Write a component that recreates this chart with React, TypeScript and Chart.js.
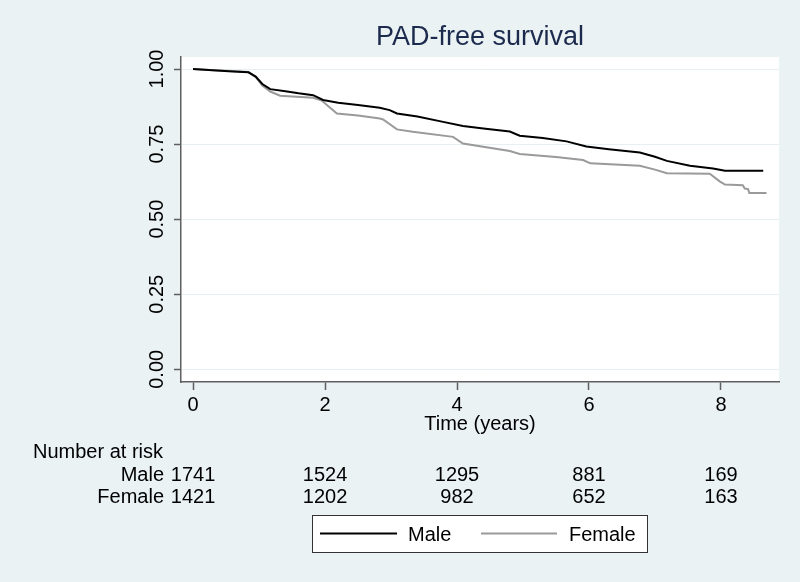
import React, { useEffect, useRef } from 'react';
import { Chart, registerables } from 'chart.js';

Chart.register(...registerables);

const TITLE = 'PAD-free survival';
const X_TITLE = 'Time (years)';
const X_TICKS = [0, 2, 4, 6, 8];
const Y_TICKS = [0, 0.25, 0.5, 0.75, 1];
const Y_TICK_LABELS = ['0.00', '0.25', '0.50', '0.75', '1.00'];

const MALE_TIME = [0, 0.3, 0.6, 0.84, 0.95, 1.05, 1.17, 1.4, 1.6, 1.82, 1.97, 2.2, 2.5, 2.83, 2.98, 3.09, 3.4, 3.79, 4.09, 4.4, 4.8, 4.95, 5.3, 5.66, 5.96, 6.3, 6.77, 7.0, 7.18, 7.53, 7.88, 8.06, 8.64];
const MALE_SURV = [1.0, 0.996, 0.992, 0.989, 0.975, 0.95, 0.933, 0.926, 0.919, 0.913, 0.897, 0.888, 0.88, 0.871, 0.863, 0.852, 0.842, 0.824, 0.81, 0.802, 0.792, 0.778, 0.77, 0.759, 0.742, 0.733, 0.722, 0.708, 0.694, 0.678, 0.669, 0.661, 0.661];

const FEMALE_TIME = [0, 0.3, 0.6, 0.84, 0.95, 1.05, 1.17, 1.32, 1.82, 1.95, 2.18, 2.5, 2.83, 2.88, 3.09, 3.33, 3.94, 4.09, 4.8, 4.95, 5.5, 5.91, 6.02, 6.77, 7.0, 7.18, 7.83, 7.98, 8.06, 8.33, 8.36, 8.41, 8.43, 8.69];
const FEMALE_SURV = [1.0, 0.996, 0.993, 0.99, 0.973, 0.945, 0.925, 0.911, 0.904, 0.895, 0.852, 0.845, 0.835, 0.832, 0.799, 0.791, 0.774, 0.752, 0.727, 0.717, 0.707, 0.697, 0.686, 0.678, 0.665, 0.653, 0.651, 0.626, 0.615, 0.613, 0.602, 0.6, 0.587, 0.587];

const RISK_TIMES = [0, 2, 4, 6, 8];
const MALE_AT_RISK = [1741, 1524, 1295, 881, 169];
const FEMALE_AT_RISK = [1421, 1202, 982, 652, 163];
const GROUPS = ['Male', 'Female'];

const FONT = '"Liberation Sans", Arial, Helvetica, sans-serif';
const BG = '#EAF2F3';
const MALE_COLOR = '#000000';
const FEMALE_COLOR = '#9a9a9a';
const AXIS_COLOR = '#5f5f5f';

const decorPlugin = {
  id: 'decor',
  beforeDraw(chart: any) {
    const { ctx, chartArea: a, width, height } = chart;
    ctx.save();
    ctx.fillStyle = BG;
    ctx.fillRect(0, 0, width, height);
    ctx.fillStyle = '#ffffff';
    ctx.fillRect(a.left, a.top, a.right - a.left, a.bottom - a.top);
    ctx.restore();
  },
  afterDraw(chart: any) {
    const { ctx, chartArea: a } = chart;
    const xs = chart.scales.x;
    const ys = chart.scales.y;
    ctx.save();
    // title
    ctx.fillStyle = '#1c2a4e';
    ctx.font = `27px ${FONT}`;
    ctx.textAlign = 'center';
    ctx.textBaseline = 'middle';
    ctx.fillText(TITLE, (a.left + a.right) / 2, 38);

    // y tick labels (rotated)
    ctx.fillStyle = '#000';
    ctx.font = `20px ${FONT}`;
    Y_TICKS.forEach((v, i) => {
      const y = ys.getPixelForValue(v);
      ctx.save();
      ctx.translate(157, y);
      ctx.rotate(-Math.PI / 2);
      ctx.textAlign = 'center';
      ctx.textBaseline = 'middle';
      ctx.fillText(Y_TICK_LABELS[i], 0, 0);
      ctx.restore();
    });

    // number at risk table
    ctx.font = `20px ${FONT}`;
    ctx.textBaseline = 'middle';
    ctx.textAlign = 'left';
    ctx.fillText('Number at risk', 33, 452);
    ctx.textAlign = 'right';
    ctx.fillText(GROUPS[0], 164, 475);
    ctx.fillText(GROUPS[1], 164, 497);
    ctx.textAlign = 'center';
    RISK_TIMES.forEach((t, i) => {
      const x = xs.getPixelForValue(t);
      ctx.fillText(String(MALE_AT_RISK[i]), x, 475);
      ctx.fillText(String(FEMALE_AT_RISK[i]), x, 497);
    });

    // legend
    ctx.fillStyle = '#ffffff';
    ctx.fillRect(312.5, 515.5, 335, 37);
    ctx.strokeStyle = '#333333';
    ctx.lineWidth = 1;
    ctx.strokeRect(312.5, 515.5, 335, 37);
    ctx.lineWidth = 2;
    ctx.strokeStyle = MALE_COLOR;
    ctx.beginPath();
    ctx.moveTo(320, 533.5);
    ctx.lineTo(397, 533.5);
    ctx.stroke();
    ctx.strokeStyle = FEMALE_COLOR;
    ctx.beginPath();
    ctx.moveTo(481, 533.5);
    ctx.lineTo(557, 533.5);
    ctx.stroke();
    ctx.fillStyle = '#000';
    ctx.textAlign = 'left';
    ctx.textBaseline = 'middle';
    ctx.fillText(GROUPS[0], 408, 535);
    ctx.fillText(GROUPS[1], 569, 535);
    ctx.restore();
  },
};

export default function App() {
  const ref = useRef<HTMLCanvasElement | null>(null);
  useEffect(() => {
    if (!ref.current) return;
    const chart = new Chart(ref.current, {
      type: 'line',
      data: {
        datasets: [
          {
            label: GROUPS[0],
            data: MALE_TIME.map((t, i) => ({ x: t, y: MALE_SURV[i] })),
            borderColor: MALE_COLOR,
            borderWidth: 2,
            pointRadius: 0,
            fill: false,
            tension: 0,
          },
          {
            label: GROUPS[1],
            data: FEMALE_TIME.map((t, i) => ({ x: t, y: FEMALE_SURV[i] })),
            borderColor: FEMALE_COLOR,
            borderWidth: 2,
            pointRadius: 0,
            fill: false,
            tension: 0,
          },
        ],
      },
      options: {
        animation: false,
        responsive: false,
        maintainAspectRatio: false,
        layout: { padding: { top: 57, right: 21, left: 0, bottom: 0 } },
        plugins: {
          legend: { display: false },
          title: { display: false },
          tooltip: { enabled: false },
        },
        scales: {
          x: {
            type: 'linear',
            min: -0.182,
            max: 8.879,
            afterBuildTicks: (s: any) => {
              s.ticks = X_TICKS.map((v) => ({ value: v }));
            },
            afterFit: (s: any) => {
              s.height = 200;
            },
            grid: {
              drawOnChartArea: false,
              drawTicks: true,
              tickLength: 8,
              tickColor: AXIS_COLOR,
              tickWidth: 1.5,
            },
            border: { display: true, color: AXIS_COLOR, width: 1.5 },
            ticks: {
              color: '#000',
              font: { family: FONT, size: 20 },
              padding: 3,
              maxRotation: 0,
              autoSkip: false,
              callback: (v: any) => String(v),
            },
            title: {
              display: true,
              text: X_TITLE,
              color: '#000',
              font: { family: FONT, size: 20 },
              padding: { top: 0, bottom: 146 },
            },
          },
          y: {
            type: 'linear',
            min: -0.0423,
            max: 1.04,
            afterBuildTicks: (s: any) => {
              s.ticks = Y_TICKS.map((v) => ({ value: v }));
            },
            afterFit: (s: any) => {
              s.width = 181;
            },
            grid: {
              color: '#e6eff1',
              lineWidth: 1,
              drawTicks: true,
              tickLength: 7,
              tickColor: AXIS_COLOR,
              tickWidth: 1.5,
            },
            border: { display: true, color: AXIS_COLOR, width: 1.5 },
            ticks: { display: false },
          },
        },
      },
      plugins: [decorPlugin],
    } as any);
    return () => chart.destroy();
  }, []);
  return (
    <div style={{ position: 'absolute', left: 0, top: 0, width: 800, height: 582, background: BG }}>
      <canvas ref={ref} width={800} height={582} style={{ display: 'block', width: 800, height: 582 }} />
    </div>
  );
}
